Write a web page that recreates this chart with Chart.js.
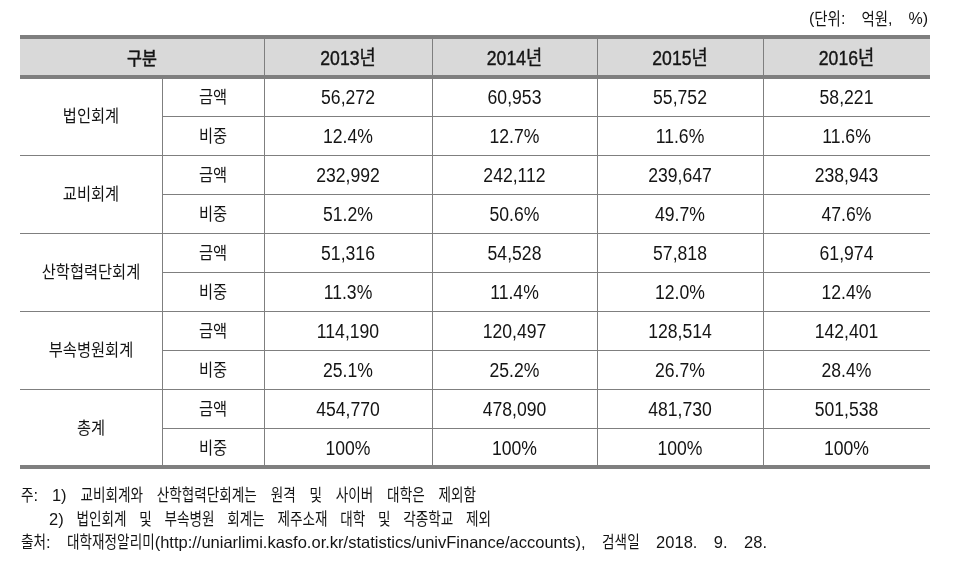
<!DOCTYPE html>
<html>
<head>
<meta charset="utf-8">
<script src="https://cdn.jsdelivr.net/npm/chart.js@4"></script>
<style>
  html, body { margin: 0; background: #fff; }
</style>
</head>
<body>
<canvas id="tbl" width="954" height="574"></canvas>
<script>
// Table values
const years = ['2013년', '2014년', '2015년', '2016년'];
const groups = ['법인회계', '교비회계', '산학협력단회계', '부속병원회계', '총계'];
const subRows = ['금액', '비중'];

const amountCorp = [56272, 60953, 55752, 58221];
const amountSchool = [232992, 242112, 239647, 238943];
const amountIndustry = [51316, 54528, 57818, 61974];
const amountHospital = [114190, 120497, 128514, 142401];
const amountTotal = [454770, 478090, 481730, 501538];

const shareCorp = [12.4, 12.7, 11.6, 11.6];
const shareSchool = [51.2, 50.6, 49.7, 47.6];
const shareIndustry = [11.3, 11.4, 12.0, 12.4];
const shareHospital = [25.1, 25.2, 26.7, 28.4];
const shareTotal = [100, 100, 100, 100];

const headerFirst = '구분';
const unitText = '(단위: 억원, %)';
const notes = [
    '주: 1) 교비회계와 산학협력단회계는 원격 및 사이버 대학은 제외함',
    '2) 법인회계 및 부속병원 회계는 제주소재 대학 및 각종학교 제외',
    '출처: 대학재정알리미(http://uniarlimi.kasfo.or.kr/statistics/univFinance/accounts), 검색일 2018. 9. 28.'
];

const amounts = [amountCorp, amountSchool, amountIndustry, amountHospital, amountTotal];
const shares = [shareCorp, shareSchool, shareIndustry, shareHospital, shareTotal];

// Layout: column edges in x-scale units, header height in row units
const colEdges = [0, 142, 244, 412, 577, 743, 910];
const headerRows = 40 / 39;
// footnote lines are spread (distributed) between a start and an end x
const noteStart = [21, 49, 21];
const noteEnd = [476, 491, 767];
const noteY = [495, 519, 542];

const latinFont = '"Liberation Sans", sans-serif';
const hangulFont = '"Noto Sans CJK KR", sans-serif';
const mixedFont = '"Liberation Sans", "Noto Sans CJK KR", sans-serif';
const lineColor = '#7f7f7f';
const textColor = '#141414';
const hangulRe = /([\u3131-\u318E\uAC00-\uD7A3]+)/;

function fmtAmount(v) { return v.toLocaleString('en-US'); }
function fmtShare(v) { return v === 100 ? '100%' : v.toFixed(1) + '%'; }
function colMid(c) { return (colEdges[c] + colEdges[c + 1]) / 2; }

// text condensed horizontally by sx (the source uses narrowed glyphs)
function drawText(ctx, s, x, y, font, sx, align, heavy) {
    ctx.save();
    ctx.translate(x, y);
    ctx.scale(sx, 1);
    ctx.font = font;
    ctx.textAlign = align;
    ctx.textBaseline = 'middle';
    ctx.fillText(s, 0, 0);
    if (heavy) {
        ctx.lineWidth = heavy;
        ctx.strokeText(s, 0, 0);
    }
    ctx.restore();
}

// Draws a line word by word, Hangul and Latin runs in their own styles,
// with the spaces stretched so the line runs from x0 to x1
function drawSpread(ctx, text, x0, x1, y, hStyle, lStyle) {
    const words = text.split(' ').map(w => w.split(hangulRe).filter(s => s.length).map(s => {
        const st = hangulRe.test(s) ? hStyle : lStyle;
        ctx.font = st.font;
        return { s: s, st: st, w: ctx.measureText(s).width * st.sx };
    }));
    const wordW = words.map(runs => runs.reduce((a, r) => a + r.w, 0));
    const total = wordW.reduce((a, b) => a + b, 0);
    const gap = words.length > 1 ? (x1 - x0 - total) / (words.length - 1) : 0;
    let x = x0;
    words.forEach(runs => {
        runs.forEach(r => {
            drawText(ctx, r.s, x, y + (r.st.dy || 0), r.st.font, r.st.sx, 'left');
            x += r.w;
        });
        x += gap;
    });
}

// One dataset per year: an invisible point at the centre of each cell
const datasets = years.map((yr, j) => {
    let pts = [];
    groups.forEach((g, i) => {
        pts.push({ x: colMid(j + 2), y: i * 2 + 0.5, text: fmtAmount(amounts[i][j]) });
        pts.push({ x: colMid(j + 2), y: i * 2 + 1.5, text: fmtShare(shares[i][j]) });
    });
    return { label: yr, data: pts, pointRadius: 0, pointHoverRadius: 0, showLine: false };
});

const tablePlugin = {
    id: 'tablePlugin',
    beforeDatasetsDraw(chart) {
        const ctx = chart.ctx;
        const x = chart.scales.x, y = chart.scales.y;
        const px = v => Math.round(x.getPixelForValue(v));
        const py = v => Math.round(y.getPixelForValue(v));
        const left = px(colEdges[0]), right = px(colEdges[colEdges.length - 1]);
        const top = py(-headerRows), headBottom = py(0), bottom = py(groups.length * 2);
        ctx.save();
        // header background
        ctx.fillStyle = '#d9d9d9';
        ctx.fillRect(left, top, right - left, headBottom - top);
        // thin lines
        ctx.strokeStyle = lineColor;
        ctx.lineWidth = 1;
        ctx.beginPath();
        for (let c = 2; c < colEdges.length - 1; c++) {
            ctx.moveTo(px(colEdges[c]) + 0.5, top);
            ctx.lineTo(px(colEdges[c]) + 0.5, headBottom);
        }
        for (let c = 1; c < colEdges.length - 1; c++) {
            ctx.moveTo(px(colEdges[c]) + 0.5, headBottom);
            ctx.lineTo(px(colEdges[c]) + 0.5, bottom);
        }
        for (let r = 1; r < groups.length * 2; r++) {
            const start = r % 2 === 0 ? left : px(colEdges[1]);
            ctx.moveTo(start, py(r) + 0.5);
            ctx.lineTo(right, py(r) + 0.5);
        }
        ctx.stroke();
        // thick rules
        ctx.fillStyle = lineColor;
        [top, headBottom, bottom].forEach(yy => ctx.fillRect(left, yy - 2, right - left, 4));

        // header texts, a little heavier than the body
        ctx.fillStyle = textColor;
        ctx.strokeStyle = textColor;
        const headMid = y.getPixelForValue(-headerRows / 2) + 1;
        drawText(ctx, headerFirst, x.getPixelForValue(colEdges[2] / 2), headMid, '18px ' + hangulFont, 0.9, 'center', 0.6);
        years.forEach((yr, j) => {
            drawText(ctx, yr, x.getPixelForValue(colMid(j + 2)), headMid + 1, '20px ' + mixedFont, 0.88, 'center', 0.4);
        });

        // row labels
        groups.forEach((g, i) => {
            drawText(ctx, g, x.getPixelForValue(colMid(0)), y.getPixelForValue(i * 2 + 1), '17px ' + hangulFont, 0.9, 'center');
            subRows.forEach((s, k) => {
                drawText(ctx, s, x.getPixelForValue(colMid(1)), y.getPixelForValue(i * 2 + k + 0.5), '17px ' + hangulFont, 0.9, 'center');
            });
        });

        // unit label and notes
        drawSpread(ctx, unitText, 809, right - 2, 19,
            { font: '17px ' + hangulFont, sx: 0.85 }, { font: '16px ' + latinFont, sx: 1, dy: 1 });
        notes.forEach((n, k) => {
            drawSpread(ctx, n, noteStart[k], noteEnd[k], noteY[k],
                { font: '17px ' + hangulFont, sx: 0.8 }, { font: '16.5px ' + latinFont, sx: 1, dy: 1 });
        });
        ctx.restore();
    },
    afterDatasetsDraw(chart) {
        const ctx = chart.ctx;
        ctx.save();
        ctx.fillStyle = textColor;
        chart.data.datasets.forEach((ds, d) => {
            chart.getDatasetMeta(d).data.forEach((el, k) => {
                drawText(ctx, ds.data[k].text, el.x, el.y + 2, '20px ' + latinFont, 0.88, 'center');
            });
        });
        ctx.restore();
    }
};

new Chart(document.getElementById('tbl').getContext('2d'), {
    type: 'scatter',
    data: { datasets: datasets },
    options: {
        responsive: false,
        animation: false,
        devicePixelRatio: 1,
        layout: { padding: { left: 20, right: 24, top: 37, bottom: 107 } },
        plugins: { legend: { display: false }, tooltip: { enabled: false } },
        scales: {
            x: { type: 'linear', display: false, min: 0, max: colEdges[colEdges.length - 1] },
            y: { type: 'linear', display: false, min: -headerRows, max: groups.length * 2, reverse: true }
        }
    },
    plugins: [tablePlugin]
});
</script>
</body>
</html>
